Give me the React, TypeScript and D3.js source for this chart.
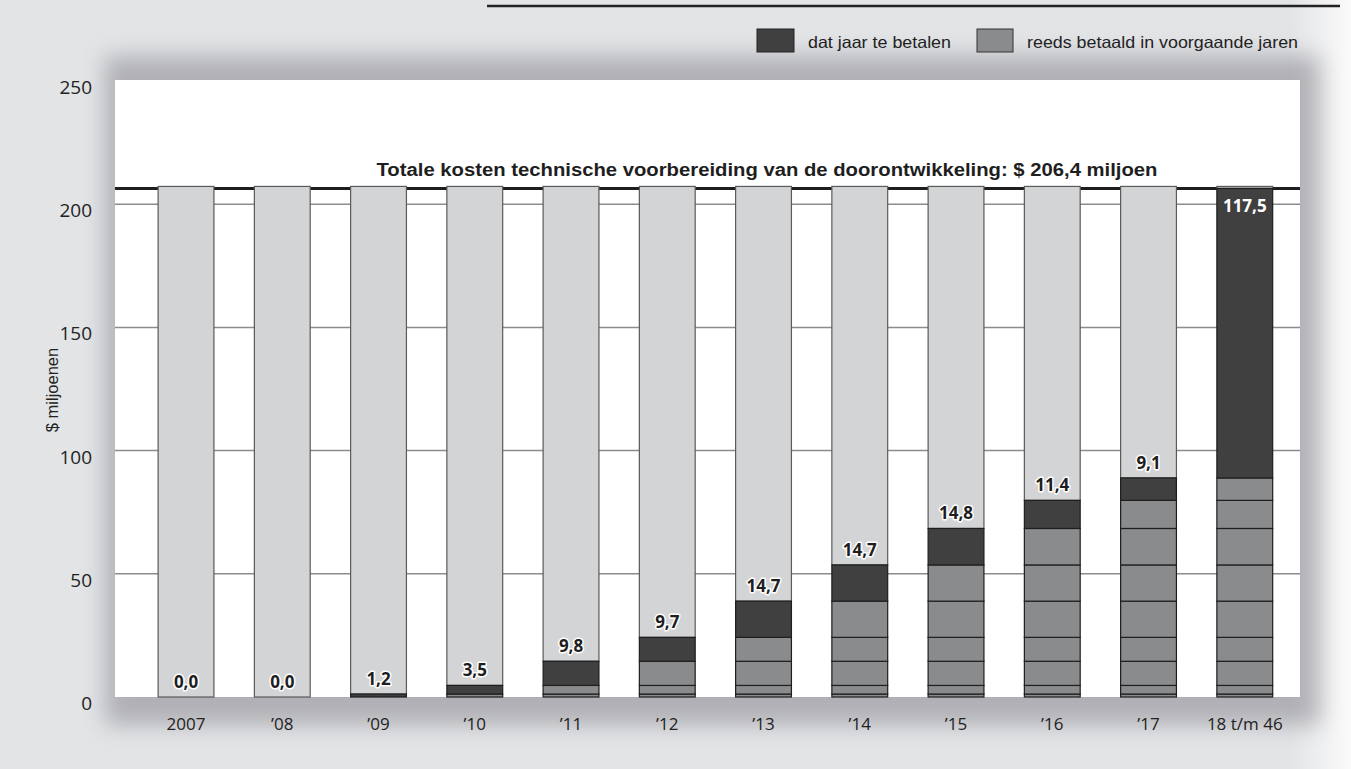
import React from "react";
import { scaleBand, scaleLinear, sum } from "d3";

const categories = ["2007", "’08", "’09", "’10", "’11", "’12", "’13", "’14", "’15", "’16", "’17", "18 t/m 46"];
const payments = [0.0, 0.0, 1.2, 3.5, 9.8, 9.7, 14.7, 14.7, 14.8, 11.4, 9.1, 117.5];
const yTicks = [0, 50, 100, 150, 200, 250];
const gridTicks = [50, 100, 150, 200];
const total = 206.4;
const legendLabels = ["dat jaar te betalen", "reeds betaald in voorgaande jaren"];

const W = 1351;
const H = 769;
const plot = { left: 115, right: 1300, top: 80, bottom: 697 };

const DARK = "#404040";
const MID = "#8a8b8d";
const LIGHT = "#d3d4d6";

const fmt = (v: number) => v.toFixed(1).replace(".", ",");

function App() {
  const x = scaleBand<string>()
    .domain(categories)
    .range([137.9, 1292.9])
    .paddingInner(0.42)
    .paddingOuter(0.21);
  const y = scaleLinear().domain([0, 250]).range([plot.bottom, 81]);
  const bw = x.bandwidth();

  const bars = categories.map((cat, i) => {
    const prev = payments.slice(0, i);
    const before = sum(prev);
    const upto = before + payments[i];
    // stacked segments of earlier years
    let acc = 0;
    const segs = prev.map((p) => {
      const s = { y0: acc, y1: acc + p };
      acc += p;
      return s;
    });
    return { cat, i, before, upto, segs, value: payments[i] };
  });

  return (
    <div style={{ position: "absolute", left: 0, top: 0 }}>
      <svg width={W} height={H} style={{ display: "block" }}>
        <defs>
          <filter id="shadow" x="-10%" y="-20%" width="120%" height="140%">
            <feGaussianBlur stdDeviation="11" />
          </filter>
          <linearGradient id="rightFade" x1="0" x2="1" y1="0" y2="0">
            <stop offset="0" stopColor="#ffffff" stopOpacity="0" />
            <stop offset="1" stopColor="#ffffff" stopOpacity="0.85" />
          </linearGradient>
        </defs>

        {/* background */}
        <rect x={0} y={0} width={W} height={H} fill="#e3e4e6" />
        <rect x={1290} y={0} width={61} height={H} fill="url(#rightFade)" />
        <line x1={487} x2={1340} y1={6} y2={6} stroke="#222" strokeWidth={2.5} />

        {/* panel shadow */}
        <rect
          x={plot.left - 10}
          y={plot.top - 24}
          width={plot.right - plot.left + 30}
          height={plot.bottom - plot.top + 52}
          fill="#8e8e96"
          filter="url(#shadow)"
          opacity={0.6}
        />
        <rect
          x={plot.left}
          y={plot.top}
          width={plot.right - plot.left}
          height={plot.bottom - plot.top}
          fill="#ffffff"
        />

        {/* legend */}
        <g fontFamily="'Liberation Sans', Arial, sans-serif" fontSize={16.5} fill="#222">
          <rect x={757} y={29} width={37} height={23} fill={DARK} stroke="#222" strokeWidth={1} />
          <text x={808} y={47.5} textLength={143} lengthAdjust="spacingAndGlyphs">{legendLabels[0]}</text>
          <rect x={977} y={29} width={36} height={23} fill={MID} stroke="#333" strokeWidth={1} />
          <text x={1027} y={47.5} textLength={271} lengthAdjust="spacingAndGlyphs">{legendLabels[1]}</text>
        </g>

        {/* gridlines */}
        {gridTicks.map((t) => (
          <line key={t} x1={plot.left} x2={plot.right} y1={y(t)} y2={y(t)} stroke="#8c8c8c" strokeWidth={1.5} />
        ))}
        <line x1={plot.left} x2={plot.right} y1={y(total)} y2={y(total)} stroke="#1e1e1e" strokeWidth={3} />

        {/* title */}
        <text
          x={767}
          y={176}
          textAnchor="middle"
          fontFamily="'Liberation Sans', Arial, sans-serif"
          fontWeight="bold"
          fontSize={18}
          fill="#1e1e1e"
          textLength={781}
          lengthAdjust="spacingAndGlyphs"
        >
          Totale kosten technische voorbereiding van de doorontwikkeling: $ 206,4 miljoen
        </text>

        {/* bars */}
        {bars.map((b) => {
          const x0 = x(b.cat) as number;
          return (
            <g key={b.cat}>
              <rect x={x0} y={y(total) - 2} width={bw} height={y(b.upto) - y(total) + 2} fill={LIGHT} stroke="#5a5a5a" strokeWidth={1.2} />
              {b.segs.map((s, j) => (
                <rect key={j} x={x0} y={y(s.y1)} width={bw} height={y(s.y0) - y(s.y1)} fill={MID} stroke="#1e1e1e" strokeWidth={1.2} />
              ))}
              <rect x={x0} y={y(b.upto)} width={bw} height={y(b.before) - y(b.upto)} fill={DARK} stroke="#1e1e1e" strokeWidth={1.2} />
            </g>
          );
        })}

        {/* value labels */}
        <g fontFamily="'Open Sans', 'Noto Sans', sans-serif" fontWeight="bold" fontSize={17} textAnchor="middle">
          {bars.map((b) => {
            const cx = (x(b.cat) as number) + bw / 2;
            const inside = b.i === categories.length - 1;
            return inside ? (
              <text key={b.cat} x={cx} y={y(total) + 24} fill="#ffffff">{fmt(b.value)}</text>
            ) : (
              <text
                key={b.cat}
                x={cx}
                y={y(b.upto) - 9}
                fill="#1e1e1e"
                stroke="#ffffff"
                strokeWidth={3}
                paintOrder="stroke"
                strokeLinejoin="round"
              >
                {fmt(b.value)}
              </text>
            );
          })}
        </g>

        {/* y axis labels */}
        <g fontFamily="'Open Sans', 'Noto Sans', sans-serif" fontSize={19} fill="#222" textAnchor="end">
          {yTicks.map((t) => (
            <text key={t} x={92} y={y(t) + 6} dominantBaseline="central">{t}</text>
          ))}
        </g>
        <text
          transform={`translate(58,390) rotate(-90)`}
          textAnchor="middle"
          fontFamily="'Liberation Sans', Arial, sans-serif"
          fontSize={16.5}
          fill="#222"
        >
          $ miljoenen
        </text>

        {/* x axis labels */}
        <g fontFamily="'Open Sans', 'Noto Sans', sans-serif" fontSize={17} fill="#222" textAnchor="middle">
          {categories.map((c) => (
            <text key={c} x={(x(c) as number) + bw / 2} y={723} dominantBaseline="central">{c}</text>
          ))}
        </g>
      </svg>
    </div>
  );
}

export default App;
